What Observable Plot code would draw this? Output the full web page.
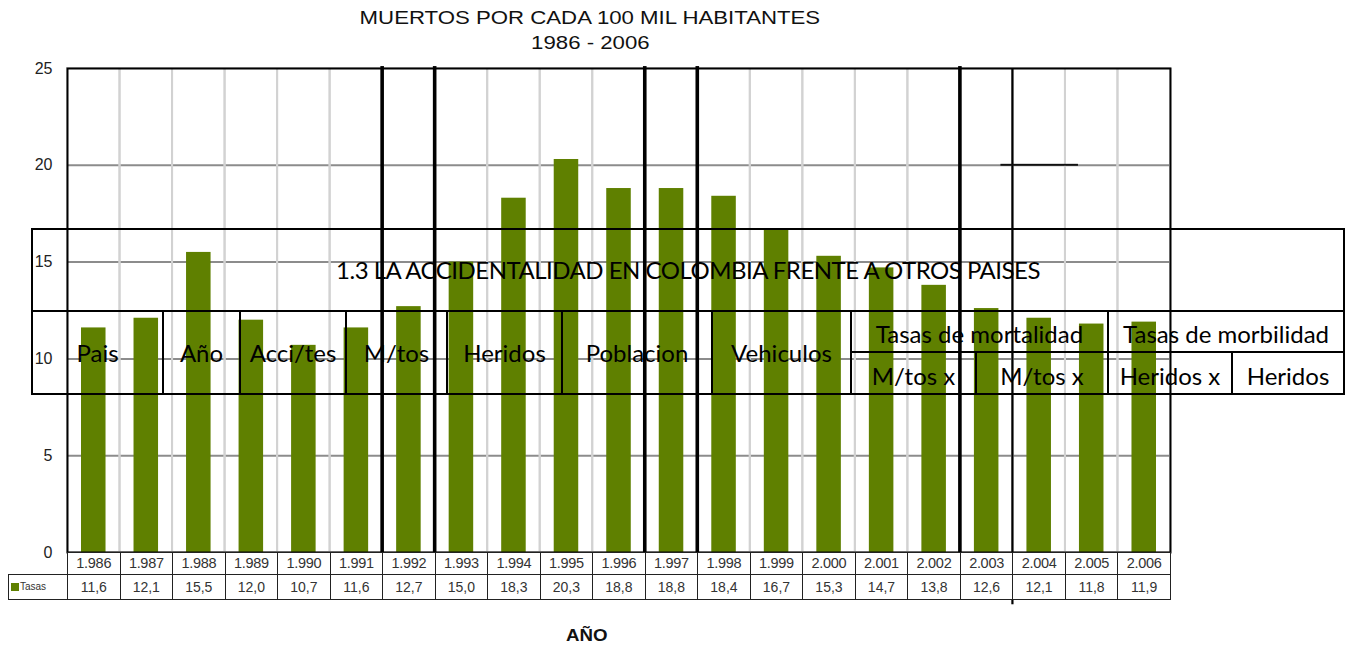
<!DOCTYPE html>
<html><head><meta charset="utf-8">
<script src="https://cdn.jsdelivr.net/npm/d3@7"></script>
<script src="https://cdn.jsdelivr.net/npm/@observablehq/plot@0.6"></script>
<style>
body{margin:0;background:#fff;}
#wrap{position:relative;width:1349px;height:649px;overflow:hidden;font-family:"Liberation Sans",Arial,sans-serif;color:#111;}
#wrap svg{position:absolute;left:0;top:0;}
.abs{position:absolute;white-space:nowrap;}
.title{left:0;width:1180px;text-align:center;font-size:18.5px;}
.title span{display:inline-block;transform:scaleX(1.2);}
table{border-collapse:collapse;table-layout:fixed;}
table.ov{position:absolute;left:31px;top:228px;width:1312px;font-family:Lato,"Open Sans",sans-serif;font-size:24px;color:#000;}
table.ov td{border:2px solid #000;padding:0;text-align:center;background:transparent;line-height:1;}
table.dt{position:absolute;top:552px;font-size:14px;color:#333;}
table.dt td{border:1.5px solid #222;padding:0;text-align:center;line-height:1;background:#fff;}
</style></head><body><div id="wrap"></div>
<script>
// ---- data ----
const years = [1986,1987,1988,1989,1990,1991,1992,1993,1994,1995,1996,1997,1998,1999,2000,2001,2002,2003,2004,2005,2006];
const tasas = [11.6,12.1,15.5,12.0,10.7,11.6,12.7,15.0,18.3,20.3,18.8,18.8,18.4,16.7,15.3,14.7,13.8,12.6,12.1,11.8,11.9];
const yTicks = [0,5,10,15,20,25];
const heavyBreaks = [1992,1993,1997,1998,2003]; // columns whose left edge carries a heavy black line
const thinBreaks = [2004];
const stubMarks = [{year: 2004, level: 20}]; // short black dash over the 20 gridline
const chartTitle = "MUERTOS POR CADA 100 MIL HABITANTES";
const chartSubtitle = "1986 - 2006";
const xLabel = "AÑO";
const seriesName = "Tasas";
const overlayTitle = "1.3 LA ACCIDENTALIDAD EN COLOMBIA FRENTE A OTROS PAISES";
const overlayHeaders = ["Pais","Año","Acci/tes","M/tos","Heridos","Poblacion","Vehiculos"];
const overlayGroups = ["Tasas de mortalidad","Tasas de morbilidad"];
const overlaySub = ["M/tos x","M/tos x","Heridos x","Heridos"];

// ---- layout ----
const W = 1349, H = 649;
const L = 67, R = 1170, T = 68, B = 552;
const bw = (R - L) / years.length;
const green = "#5f8000";
const ovColW = [131,77,106,101,115,150,139,125,132,124,112];

const loc = d3.formatLocale({decimal:",", thousands:".", grouping:[3], currency:["",""]});
const yearFmt = loc.format(",d");
const valFmt = loc.format(",.1f");
const data = years.map((y,i)=>({year:y, value:tasas[i]}));

const plot = Plot.plot({
  width: W, height: H,
  marginLeft: L, marginRight: W - R, marginTop: T, marginBottom: H - B,
  style: {fontFamily: '"Liberation Sans",Arial,sans-serif', fontSize: "16px", color: "#222", background: "transparent"},
  x: {type: "band", domain: years, padding: 0, round: false, axis: null},
  y: {domain: [0,25], ticks: yTicks, tickSize: 0, tickPadding: 15, label: null},
  marks: [
    Plot.ruleY(yTicks.slice(1,-1), {stroke: "#8c8c8c", strokeWidth: 2}),
    Plot.barY(years, {x: d=>d, y1: 0, y2: 25, fill: "none", stroke: "#d2d2d2", strokeWidth: 2}),
    Plot.barY(data, {x: "year", y: "value", fill: green, insetLeft: 14, insetRight: 14}),
    Plot.barY(heavyBreaks, {x: d=>d, y1: 0, y2: 25.1, fill: "#000", insetLeft: -1.8, insetRight: bw - 1.8}),
    Plot.barY(thinBreaks, {x: d=>d, y1: -2.7, y2: 25, fill: "#000", insetLeft: -1.1, insetRight: bw - 1.1}),
    Plot.barY(stubMarks, {x: "year", y1: d=>d.level - 0.05, y2: d=>d.level + 0.05, fill: "#111", insetLeft: -12, insetRight: -13}),
    Plot.frame({stroke: "#000", strokeWidth: 2})
  ]
});
const wrap = document.getElementById("wrap");
wrap.appendChild(plot);

// titles
const t1 = document.createElement("div");
t1.className = "abs title"; t1.style.top = "7px";
t1.innerHTML = `<span>${chartTitle}</span>`;
wrap.appendChild(t1);
const t2 = document.createElement("div");
t2.className = "abs title"; t2.style.top = "32px";
t2.innerHTML = `<span>${chartSubtitle}</span>`;
wrap.appendChild(t2);
const xl = document.createElement("div");
xl.className = "abs"; xl.style.cssText = "left:0;width:1174px;top:626px;text-align:center;font-weight:bold;font-size:17px;";
xl.innerHTML = `<span style="display:inline-block;transform:scaleX(1.1)">${xLabel}</span>`;
wrap.appendChild(xl);

// data table under the chart
const xs = plot.scale("x");
const dt = document.createElement("table");
dt.className = "dt";
dt.style.left = (L - 59) + "px";
dt.style.width = (59 + bw * years.length) + "px";
let cg = `<colgroup><col style="width:59px">` + years.map(()=>`<col style="width:${xs.bandwidth}px">`).join("") + `</colgroup>`;
let r1 = `<tr style="height:22px"><td style="border:none;background:transparent"></td>` + years.map(y=>`<td style="font-size:14.5px;letter-spacing:-0.3px">${yearFmt(y)}</td>`).join("") + `</tr>`;
let r2 = `<tr style="height:25px"><td style="text-align:left;font-size:10px;padding-left:2px"><span style="display:inline-block;width:8px;height:8px;background:${green};margin-right:1px;vertical-align:-1px"></span>${seriesName}</td>` + tasas.map(v=>`<td>${valFmt(v)}</td>`).join("") + `</tr>`;
dt.innerHTML = cg + r1 + r2;
wrap.appendChild(dt);

// overlaid document table
const ov = document.createElement("table");
ov.className = "ov";
let ocg = `<colgroup>` + ovColW.map(w=>`<col style="width:${w}px">`).join("") + `</colgroup>`;
let o1 = `<tr style="height:82px"><td colspan="${ovColW.length}" style="letter-spacing:-0.5px">${overlayTitle}</td></tr>`;
let o2 = `<tr style="height:41px">` + overlayHeaders.map(h=>`<td rowspan="2" style="padding-top:1px">${h}</td>`).join("") + overlayGroups.map(g=>`<td colspan="2" style="padding-top:4px">${g}</td>`).join("") + `</tr>`;
let o3 = `<tr style="height:42px">` + overlaySub.map(s=>`<td style="padding-top:6px">${s}</td>`).join("") + `</tr>`;
ov.innerHTML = ocg + o1 + o2 + o3;
wrap.appendChild(ov);
</script>
</body></html>
